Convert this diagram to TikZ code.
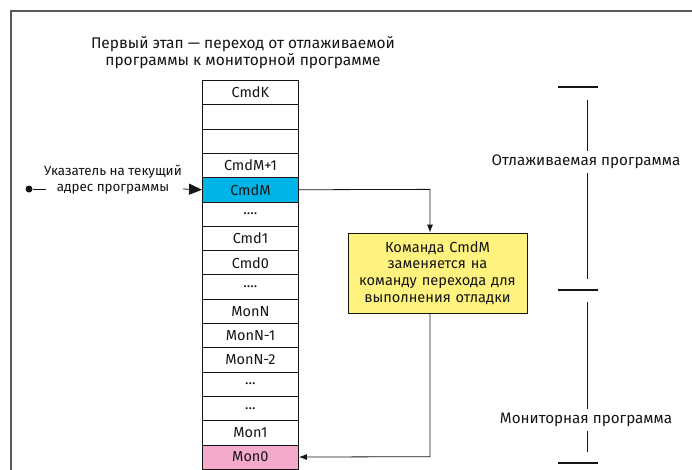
\documentclass[tikz,border=0pt]{standalone}
\usepackage{fontspec}
\setmainfont{Fira Sans}
\usetikzlibrary{arrows.meta}
\definecolor{ink}{HTML}{151515}
\definecolor{framegray}{HTML}{5A5A5A}
\definecolor{cellcyan}{HTML}{00B4E8}
\definecolor{cellpink}{HTML}{F4AACB}
\definecolor{noteyellow}{HTML}{FFF27F}
\begin{document}
\begin{tikzpicture}[x=1pt,y=-1pt,
  font=\fontsize{14.5}{17}\selectfont, text=ink,
  cell/.style={draw=ink, line width=0.8pt, minimum width=96pt,
    minimum height=24.3pt, inner sep=0pt, anchor=north west},
  note/.style={draw=ink, line width=0.8pt, fill=noteyellow,
    minimum width=179pt, minimum height=80pt, inner sep=0pt,
    text width=176pt, align=center, font=\fontsize{14.6}{16.8}\selectfont},
  conn/.style={draw=ink, line width=0.8pt},
  connarrow/.style={conn, -{Latex[length=8pt,width=6pt]}},
  tick/.style={draw=ink, line width=1.1pt},
  bracket/.style={draw=ink, line width=0.8pt},
  rangelabel/.style={font=\fontsize{15.2}{17}\selectfont}]
\useasboundingbox (0,0) rectangle (692,469);

% outer frame
\draw[framegray, line width=1.6pt] (11,480) -- (11,11) -- (700,11);

% title
\node[align=center, font=\fontsize{15.5}{17}\selectfont] (title) at (243,53)
  {Первый этап — переход от отлаживаемой\\программы к мониторной программе};

% memory column
\node[cell] (r1)  at (202, 80.0) {CmdK};
\node[cell] (r2)  at (202,104.3) {};
\node[cell] (r3)  at (202,128.6) {};
\node[cell] (r4)  at (202,152.9) {CmdM+1};
\node[cell, fill=cellcyan] (r5) at (202,177.2) {CmdM};
\node[cell] (r6)  at (202,201.5) {....};
\node[cell] (r7)  at (202,225.8) {Cmd1};
\node[cell] (r8)  at (202,250.1) {Cmd0};
\node[cell] (r9)  at (202,274.4) {....};
\node[cell] (r10) at (202,298.7) {MonN};
\node[cell] (r11) at (202,323.0) {MonN-1};
\node[cell] (r12) at (202,347.3) {MonN-2};
\node[cell] (r13) at (202,371.6) {...};
\node[cell] (r14) at (202,395.9) {...};
\node[cell] (r15) at (202,420.2) {Mon1};
\node[cell, fill=cellpink] (r16) at (202,444.5) {Mon0};

% instruction pointer
\node[circle, fill=ink, inner sep=0pt, minimum size=7pt] (dot) at (29,189) {};
\coordinate (dotend) at (46,189);
\draw[conn] (dot) -- (dotend);
\node[align=center, font=\fontsize{13.4}{16}\selectfont] (ptr) at (113,180)
  {Указатель на текущий\\адрес программы};
\coordinate (ptrstart) at (183,189);
\draw[conn, -{Triangle[length=13pt,width=11pt]}] (ptrstart) -- (r5.west);

% replacement note
\node[note] (box) at (437.5,273)
  {Команда CmdM\\заменяется на\\команду перехода для\\выполнения отладки};
\coordinate (turnA) at (430,189.35);
\coordinate (turnB) at (430,456.65);
\draw[connarrow] (r5.east) -- (turnA) -- (turnA |- box.north);
\draw[connarrow] (turnB |- box.south) -- (turnB) -- (r16.east);

% program ranges
\draw[tick] (558,87) -- (598,87);
\draw[bracket] (587,100) -- (587,151);
\node[rangelabel] (lab1) at (586,162) {Отлаживаемая программа};
\draw[bracket] (587,173) -- (587,279);
\draw[tick] (558,290) -- (598,290);
\draw[bracket] (587,302) -- (587,409);
\node[rangelabel] (lab2) at (586,420) {Мониторная программа};
\draw[bracket] (587,431) -- (587,452);
\draw[tick] (558,463) -- (598,463);
\end{tikzpicture}
\end{document}
